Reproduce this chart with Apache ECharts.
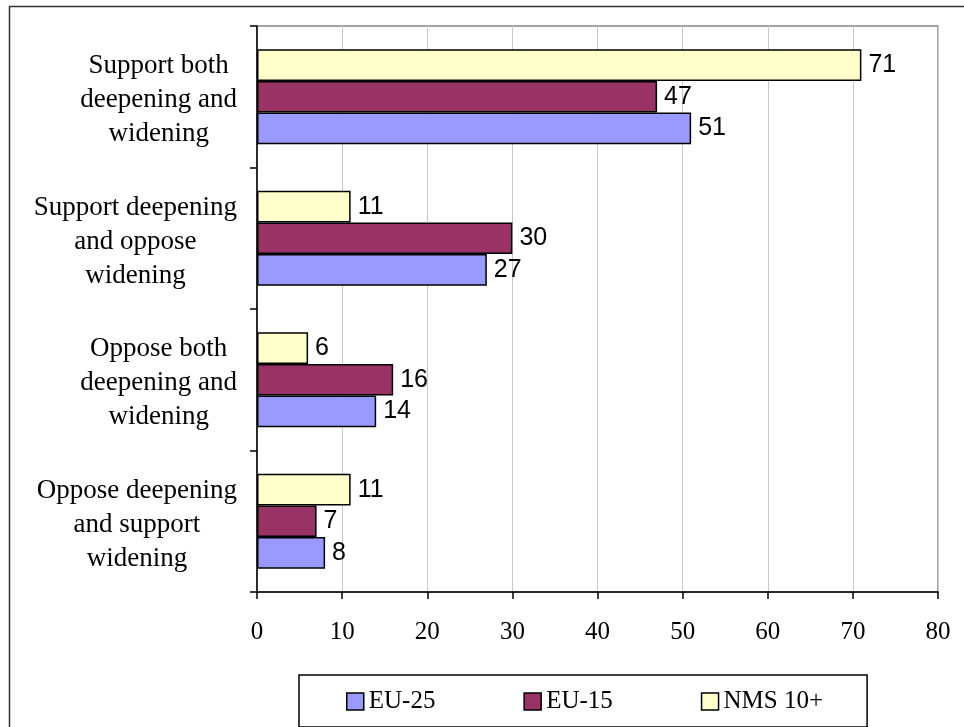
<!DOCTYPE html>
<html>
<head>
<meta charset="utf-8">
<style>
  html, body { margin: 0; padding: 0; background: #fff; }
  #chart { width: 964px; height: 727px; }
</style>
<script src="https://cdn.jsdelivr.net/npm/echarts@6/dist/echarts.min.js"></script>
</head>
<body>
<div id="chart"></div>
<script>
// Attitudes towards deepening and widening of the EU (%)
const categories = [
  'Support both\ndeepening and\nwidening',
  'Support deepening\nand oppose\nwidening',
  'Oppose both\ndeepening and\nwidening',
  'Oppose deepening\nand support\nwidening'
];
const seriesNames = ['EU-25', 'EU-15', 'NMS 10+'];
const eu25 = [51, 27, 14, 8];
const eu15 = [47, 30, 16, 7];
const nms10 = [71, 11, 6, 11];
const xTicks = { min: 0, max: 80, interval: 10 };

const colors = { 'EU-25': '#9999FF', 'EU-15': '#993366', 'NMS 10+': '#FFFFCC' };
const serif = '"Liberation Serif", "Times New Roman", serif';
const sans = '"Liberation Sans", Arial, sans-serif';

function barSeries(name, values) {
  return {
    name: name,
    type: 'bar',
    data: values,
    barGap: '0%',
    barCategoryGap: '33%',
    itemStyle: { color: colors[name], borderColor: '#000', borderWidth: 1.5 },
    label: {
      show: true,
      position: 'right',
      distance: 7,
      color: '#000',
      fontFamily: sans,
      fontSize: 25
    },
    emphasis: { disabled: true }
  };
}

// Category labels: the block sits right-aligned next to the axis,
// each line centred inside it.
function categoryLabel(value) {
  return value.split('\n').map(function (line) { return '{c|' + line + '}'; }).join('\n');
}

const chart = echarts.init(document.getElementById('chart'), null, { renderer: 'canvas' });
chart.setOption({
  animation: false,
  backgroundColor: '#fff',
  grid: {
    left: 257, right: 26, top: 26, bottom: 135,
    show: true, borderColor: '#888', borderWidth: 1.5, backgroundColor: 'transparent'
  },
  xAxis: {
    type: 'value',
    min: xTicks.min, max: xTicks.max, interval: xTicks.interval,
    axisLine: { show: true, lineStyle: { color: '#000', width: 1.5 } },
    axisTick: { show: true, length: 7, lineStyle: { color: '#000', width: 1.5 } },
    axisLabel: { color: '#000', fontFamily: serif, fontSize: 25, margin: 28 },
    splitLine: { show: true, lineStyle: { color: '#c8c8c8', width: 1 } }
  },
  yAxis: {
    type: 'category',
    data: categories,
    inverse: true,
    axisLine: { show: true, lineStyle: { color: '#000', width: 1.5 } },
    axisTick: { show: true, length: 7, alignWithLabel: false, lineStyle: { color: '#000', width: 1.5 } },
    axisLabel: {
      color: '#000', fontFamily: serif, fontSize: 27, lineHeight: 34,
      align: 'right', margin: 20,
      padding: [7, 0, 0, 0],
      formatter: categoryLabel,
      rich: {
        c: { align: 'center', fontFamily: serif, fontSize: 27, lineHeight: 34, color: '#000' }
      }
    },
    splitLine: { show: false }
  },
  legend: {
    data: seriesNames,
    left: 299, top: 675,
    orient: 'horizontal',
    itemWidth: 17, itemHeight: 17, itemGap: 88,
    padding: [14, 44, 13, 47],
    borderColor: '#000', borderWidth: 1.5,
    icon: 'rect',
    itemStyle: { borderColor: '#000', borderWidth: 1.5 },
    textStyle: { color: '#000', fontFamily: serif, fontSize: 25, lineHeight: 20 },
    selectedMode: false
  },
  series: [
    barSeries('NMS 10+', nms10),
    barSeries('EU-15', eu15),
    barSeries('EU-25', eu25)
  ],
  graphic: [{
    type: 'polyline',
    silent: true,
    shape: { points: [[9.5, 727], [9.5, 6.5], [964, 6.5]] },
    style: { stroke: '#333', lineWidth: 1.5, fill: null }
  }]
});
</script>
</body>
</html>
